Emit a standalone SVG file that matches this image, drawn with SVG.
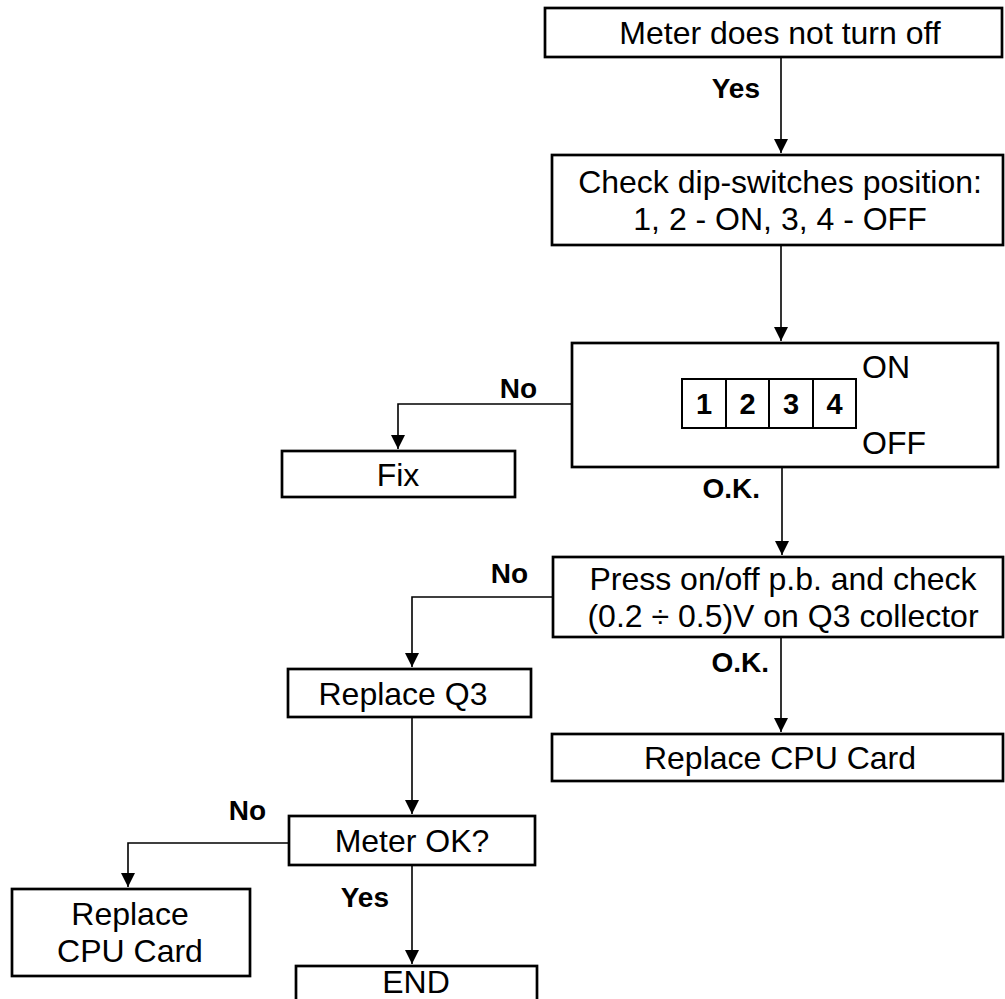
<svg xmlns="http://www.w3.org/2000/svg" width="1005" height="999" viewBox="0 0 1005 999">
<style>
.box{fill:#fff;stroke:#000;stroke-width:2.7}
.cell{fill:#fff;stroke:#000;stroke-width:2}
.t{font-family:"Liberation Sans",Arial,sans-serif;font-size:32px;fill:#000;text-anchor:middle}
.l{font-family:"Liberation Sans",Arial,sans-serif;font-size:28px;font-weight:bold;fill:#000}
.d{font-family:"Liberation Sans",Arial,sans-serif;font-size:29px;font-weight:bold;fill:#000;text-anchor:middle}
.c{fill:none;stroke:#000;stroke-width:1.6}
</style>
<defs>
<marker id="ah" markerUnits="userSpaceOnUse" markerWidth="16" markerHeight="14" refX="14" refY="7" orient="auto" viewBox="0 0 16 14">
<path d="M0,0 L14,7 L0,14 Z" fill="#000"/>
</marker>
</defs>
<rect width="1005" height="999" fill="#fff"/>
<g id="connectors">
<path class="c" d="M781,57 V153" marker-end="url(#ah)"/>
<path class="c" d="M781,245 V341" marker-end="url(#ah)"/>
<path class="c" d="M571,404 H398 V449" marker-end="url(#ah)"/>
<path class="c" d="M782,467 V555" marker-end="url(#ah)"/>
<path class="c" d="M553,597 H412 V667" marker-end="url(#ah)"/>
<path class="c" d="M781,637 V732" marker-end="url(#ah)"/>
<path class="c" d="M412,717 V814" marker-end="url(#ah)"/>
<path class="c" d="M289,843 H128 V887" marker-end="url(#ah)"/>
<path class="c" d="M412,865 V964" marker-end="url(#ah)"/>
<text class="l" x="760" y="98" text-anchor="end">Yes</text>
<text class="l" x="537" y="398" text-anchor="end">No</text>
<text class="l" x="760" y="498" text-anchor="end">O.K.</text>
<text class="l" x="528" y="583" text-anchor="end">No</text>
<text class="l" x="769" y="672" text-anchor="end">O.K.</text>
<text class="l" x="266" y="820" text-anchor="end">No</text>
<text class="l" x="389" y="907" text-anchor="end">Yes</text>
</g>
<g id="n1">
<rect class="box" x="545" y="8" width="457" height="49"/>
<text class="t" x="780" y="44">Meter does not turn off</text>
</g>
<g id="n2">
<rect class="box" x="552" y="155" width="451" height="90"/>
<text class="t" x="780" y="193">Check dip-switches position:</text>
<text class="t" x="780" y="230">1, 2 - ON, 3, 4 - OFF</text>
</g>
<g id="n3">
<rect class="box" x="572" y="343" width="426" height="124"/>
<rect class="cell" x="682" y="379" width="174" height="49"/>
<path d="M726,379 V428 M769,379 V428 M813,379 V428" stroke="#000" stroke-width="2"/>
<text class="d" x="704" y="414">1</text>
<text class="d" x="747.5" y="414">2</text>
<text class="d" x="791" y="414">3</text>
<text class="d" x="834.5" y="414">4</text>
<text class="t" x="862" y="378" style="text-anchor:start">ON</text>
<text class="t" x="862" y="454" style="text-anchor:start">OFF</text>
</g>
<g id="n4">
<rect class="box" x="282" y="451" width="233" height="46"/>
<text class="t" x="398" y="486">Fix</text>
</g>
<g id="n5">
<rect class="box" x="553" y="557" width="450" height="80"/>
<text class="t" x="783" y="590">Press on/off p.b. and check</text>
<text class="t" x="783" y="627">(0.2 ÷ 0.5)V on Q3 collector</text>
</g>
<g id="n6">
<rect class="box" x="288" y="669" width="243" height="48"/>
<text class="t" x="403" y="705">Replace Q3</text>
</g>
<g id="n7">
<rect class="box" x="552" y="734" width="451" height="47"/>
<text class="t" x="780" y="769">Replace CPU Card</text>
</g>
<g id="n8">
<rect class="box" x="289" y="816" width="246" height="49"/>
<text class="t" x="412" y="852">Meter OK?</text>
</g>
<g id="n9">
<rect class="box" x="12" y="889" width="238" height="87"/>
<text class="t" x="130" y="925">Replace</text>
<text class="t" x="130" y="962">CPU Card</text>
</g>
<g id="n10">
<rect class="box" x="296" y="966" width="241" height="50"/>
<text class="t" x="416" y="993">END</text>
</g>
</svg>
